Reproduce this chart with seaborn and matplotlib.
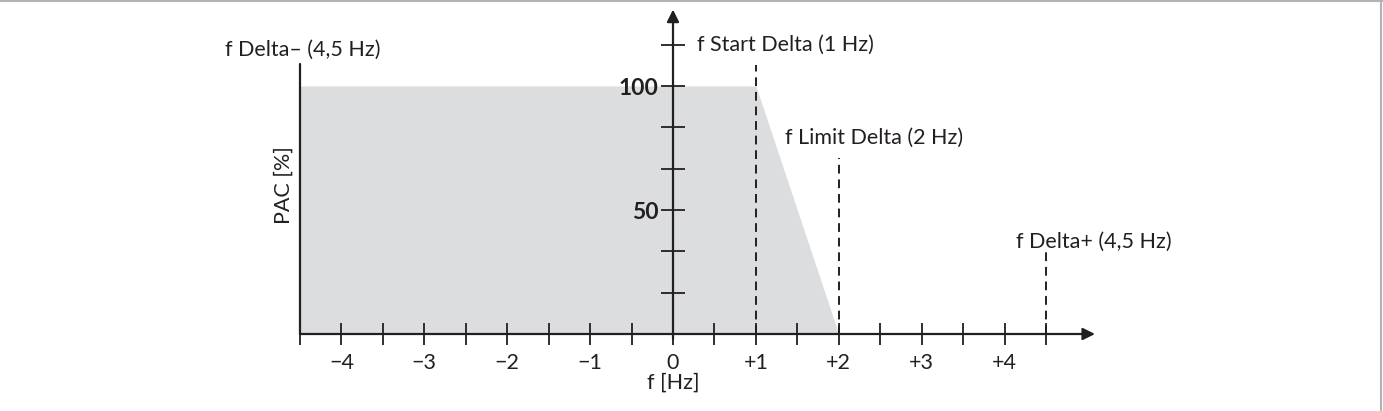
import matplotlib
matplotlib.use("Agg")
import matplotlib.pyplot as plt
import seaborn as sns
import pandas as pd
from matplotlib.lines import Line2D
from matplotlib.ticker import FixedLocator

# ---- data ----
curve_freq = [-4.5, 1.0, 2.0]          # Hz
curve_pac = [100.0, 100.0, 0.0]        # %
marker_freq = [1.0, 2.0, 4.5]          # dashed marker positions (Hz)
marker_top = [108.5, 71.0, 33.0]       # dashed marker heights (%)
marker_labels = ["f Start Delta (1 Hz)", "f Limit Delta (2 Hz)", "f Delta+ (4,5 Hz)"]
left_label = "f Delta\u2013 (4,5 Hz)"
left_freq = -4.5
left_top = 109.0
x_major = [-4, -3, -2, -1, 0, 1, 2, 3, 4]
x_tick_labels = ["\u22124", "\u22123", "\u22122", "\u22121", "0", "+1", "+2", "+3", "+4"]
x_minor = [-4.5, -3.5, -2.5, -1.5, -0.5, 0.5, 1.5, 2.5, 3.5, 4.5]
y_major = [50, 100]
y_tick_labels = ["50", "100"]
y_minor = [100 / 6, 200 / 6, 400 / 6, 500 / 6, 700 / 6]
x_label = "f [Hz]"
y_label = "PAC [%]"

sns.set_style("white")
plt.rcParams["font.family"] = ["Lato", "DejaVu Sans"]
plt.rcParams["axes.axisbelow"] = False

INK = "#231f20"
FILL = "#dcdddf"

fig = plt.figure(figsize=(13.83, 4.11), dpi=100)
ax = fig.add_axes([0, 0, 1, 1])
ax.set_facecolor("white")
ax.set_axisbelow(False)

# pixel mapping: x0 at px 673, 82.9 px/Hz; baseline at py 334, 2.48 px/%
ax.set_xlim(-673 / 82.9, (1383 - 673) / 82.9)
ax.set_ylim((334 - 411) / 2.48, 334 / 2.48)

df = pd.DataFrame({"f": curve_freq, "p": curve_pac})
ax.fill_between(df["f"], df["p"], 0, color=FILL, lw=0, zorder=0.2)

# left boundary line
sns.lineplot(x=[left_freq, left_freq], y=[0, left_top], color=INK, lw=1.6,
             ax=ax, zorder=3, estimator=None, sort=False)

# dashed markers
for f, top in zip(marker_freq, marker_top):
    sns.lineplot(x=[f, f], y=[0, top], color=INK, lw=1.4, ax=ax, zorder=3,
                 estimator=None, sort=False, linestyle=(0, (4.5, 3)))

# labels
fs = 15.5
ax.text(-5.40, 114.5, left_label, fontsize=fs, color=INK, va="center", ha="left")
label_pos = [(0.29, 116.5), (1.35, 79.0), (4.14, 37.1)]
for (lx, ly), lab in zip(label_pos, marker_labels):
    ax.text(lx, ly, lab, fontsize=fs, color=INK, va="center", ha="left")

# axes with arrows
arrow = dict(arrowstyle="-|>", color=INK, lw=1.6, shrinkA=0, shrinkB=0,
             mutation_scale=18)
ax.annotate("", xy=(5.09, 0), xytext=(-4.5, 0), arrowprops=arrow, zorder=4)
ax.annotate("", xy=(0, 130.8), xytext=(0, -2), arrowprops=arrow, zorder=4)

for s in ["top", "right"]:
    ax.spines[s].set_visible(False)
ax.spines["left"].set_position(("data", 0))
ax.spines["bottom"].set_position(("data", 0))
ax.spines["left"].set_visible(False)
ax.spines["bottom"].set_visible(False)

ax.xaxis.set_major_locator(FixedLocator(x_major))
ax.xaxis.set_minor_locator(FixedLocator(x_minor))
ax.set_xticklabels(x_tick_labels)
ax.yaxis.set_major_locator(FixedLocator(y_major))
ax.yaxis.set_minor_locator(FixedLocator(y_minor))
ax.set_yticklabels(y_tick_labels, fontweight="bold")

ax.tick_params(axis="x", which="both", direction="inout", length=16, width=1.3,
               color=INK, labelsize=fs, labelcolor=INK, pad=6, bottom=True)
ax.tick_params(axis="y", which="both", direction="inout", length=17, width=1.3,
               color=INK, labelsize=fs + 1, labelcolor=INK, pad=2, left=True)

ax.text(0, -19.6, x_label, fontsize=fs, color=INK, ha="center", va="center")
ax.text(-4.70, 60, y_label, fontsize=fs, color=INK, ha="center", va="center",
        rotation=90)

# thin gray frame at top and right edges
fig.add_artist(Line2D([0, 1], [0.998, 0.998], transform=fig.transFigure,
                      color="#b3b3b3", lw=1.5))
fig.add_artist(Line2D([0.9986, 0.9986], [0, 1], transform=fig.transFigure,
                      color="#b3b3b3", lw=1.5))

fig.savefig("out.png", dpi=100)
